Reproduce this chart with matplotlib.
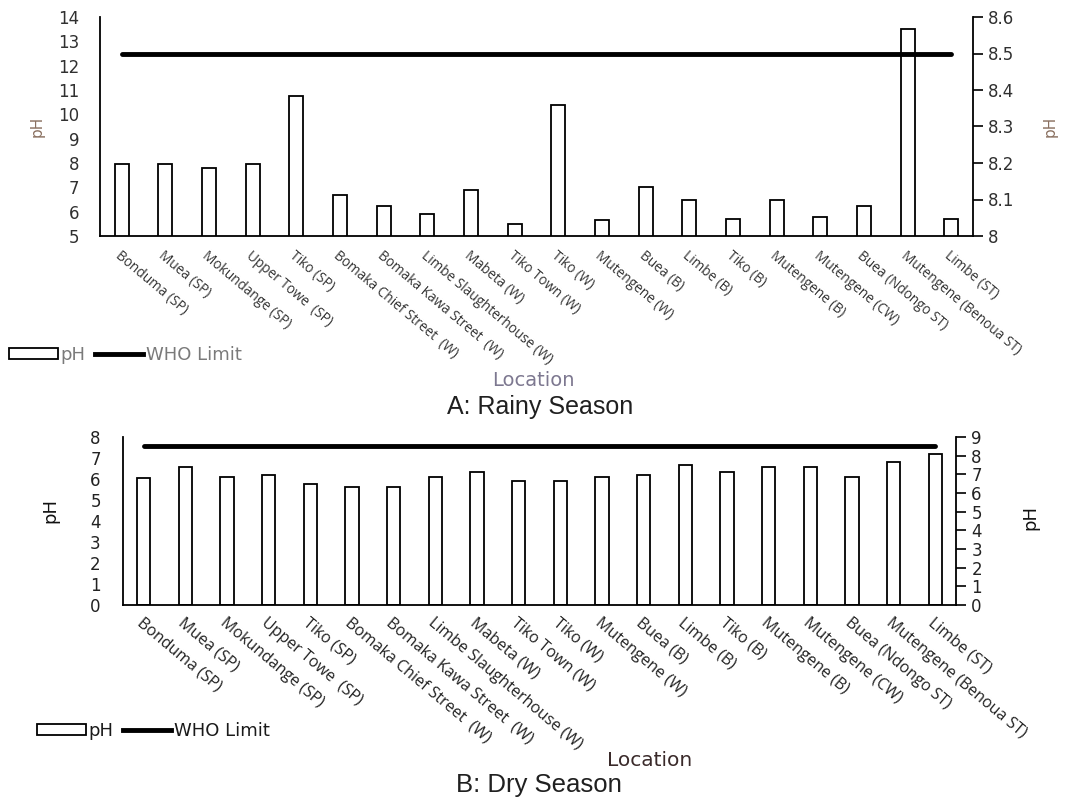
import matplotlib
matplotlib.use("Agg")
import numpy as np
import matplotlib.pyplot as plt
from matplotlib.patches import Patch
from matplotlib.lines import Line2D

# === Data ===
locations = [
    "Bonduma (SP)", "Muea (SP)", "Mokundange (SP)", "Upper Towe  (SP)", "Tiko (SP)",
    "Bomaka Chief Street  (W)", "Bomaka Kawa Street  (W)", "Limbe Slaughterhouse (W)",
    "Mabeta (W)", "Tiko Town (W)", "Tiko (W)", "Mutengene (W)", "Buea (B)", "Limbe (B)",
    "Tiko (B)", "Mutengene (B)", "Mutengene (CW)", "Buea (Ndongo ST)",
    "Mutengene (Benoua ST)", "Limbe (ST)",
]
rainy_ph = [7.95, 7.95, 7.8, 7.95, 10.75, 6.7, 6.25, 5.9, 6.9, 5.5,
            10.4, 5.65, 7.0, 6.5, 5.7, 6.5, 5.8, 6.25, 13.5, 5.7]
dry_ph = [6.05, 6.55, 6.1, 6.2, 5.75, 5.6, 5.6, 6.1, 6.35, 5.9,
          5.9, 6.1, 6.2, 6.65, 6.35, 6.55, 6.55, 6.1, 6.8, 7.2]
who_limit = 8.5

rainy_left_ticks = list(range(5, 15))
rainy_right_ticks = [8, 8.1, 8.2, 8.3, 8.4, 8.5, 8.6]
dry_left_ticks = list(range(0, 9))
dry_right_ticks = list(range(0, 10))

x = np.arange(len(locations))
who = [who_limit] * len(locations)

fig = plt.figure(figsize=(10.8, 8), dpi=100)


def draw_panel(rect, values, lticks, rticks, ylim_l, ylim_r, lab_size, tick_size,
               lab_color, tick_color, lpad, xpad):
    ax = fig.add_axes(rect)
    ax.bar(x, values, width=0.32, color="white", edgecolor="black", linewidth=1.3)
    ax.set_xlim(-0.5, len(locations) - 0.5)
    ax.set_ylim(*ylim_l)
    ax.set_yticks(lticks)
    ax.set_yticklabels([str(t) for t in lticks], fontsize=tick_size, color=tick_color)
    ax.tick_params(axis="y", length=0, pad=lpad)
    ax.set_xticks(x)
    ax.set_xticklabels(locations, rotation=-40, ha="left", va="top",
                       rotation_mode="anchor", fontsize=lab_size, color=lab_color,
                       family="Open Sans")
    ax.tick_params(axis="x", length=0, pad=xpad)
    for s in ["top", "right"]:
        ax.spines[s].set_visible(False)
    ax.spines["left"].set_linewidth(1.3)
    ax.spines["bottom"].set_linewidth(1.3)

    ax2 = ax.twinx()
    ax2.plot(x, who, color="black", linewidth=3.5, solid_capstyle="round")
    ax2.set_ylim(*ylim_r)
    ax2.set_yticks(rticks)
    ax2.set_yticklabels([str(t) for t in rticks], fontsize=tick_size, color=tick_color)
    ax2.tick_params(axis="y", length=7, width=1.2, direction="out", pad=4)
    for s in ["top", "left", "bottom"]:
        ax2.spines[s].set_visible(False)
    ax2.spines["right"].set_linewidth(1.3)
    return ax, ax2


# === A: Rainy season ===
axA, axA2 = draw_panel([100 / 1080, 1 - 236 / 800, 873 / 1080, 219 / 800], rainy_ph,
                       rainy_left_ticks, rainy_right_ticks, (5, 14), (8, 8.6),
                       9.8, 12, "#333333", "#303030", 15, 9)
axA.set_ylabel("pH", fontsize=11, color="#8a7060")
axA.yaxis.set_label_coords(-0.063, 0.5)
axA2.set_ylabel("pH", fontsize=11, color="#8a7060", rotation=90)
axA2.yaxis.set_label_coords(1.080, 0.5)

handles = [Patch(facecolor="white", edgecolor="black", linewidth=1.3),
           Line2D([0], [0], color="black", linewidth=3.5)]
fig.legend(handles, ["pH", "WHO Limit"], loc="center left",
           bbox_to_anchor=(0 / 1080, 1 - 355 / 800), ncol=2, frameon=False,
           fontsize=13, handlelength=2.7, handleheight=0.6, handletextpad=0.15,
           columnspacing=0.5, borderpad=0, labelcolor="#7a7a7a")
fig.text(533 / 1080, 1 - 380 / 800, "Location", ha="center", va="center",
         fontsize=14, color="#7d7890")
fig.text(540 / 1080, 1 - 407 / 800, "A: Rainy Season", ha="center", va="center",
         fontsize=18, color="#202020", family="Liberation Sans")

# === B: Dry season ===
axB, axB2 = draw_panel([123 / 1080, 1 - 605 / 800, 833 / 1080, 168 / 800], dry_ph,
                       dry_left_ticks, dry_right_ticks, (0, 8), (0, 9),
                       11.5, 12, "#222222", "#222222", 16, 7)
axB.set_ylabel("pH", fontsize=13, color="#111111")
axB.yaxis.set_label_coords(-0.076, 0.56)
axB2.set_ylabel("pH", fontsize=13, color="#111111", rotation=90)
axB2.yaxis.set_label_coords(1.078, 0.52)

fig.legend(handles, ["pH", "WHO Limit"], loc="center left",
           bbox_to_anchor=(28 / 1080, 1 - 731 / 800), ncol=2, frameon=False,
           fontsize=13, handlelength=2.7, handleheight=0.6, handletextpad=0.15,
           columnspacing=0.5, borderpad=0, labelcolor="#1a1a1a")
fig.text(650 / 1080, 1 - 760 / 800, "Location", ha="center", va="center",
         fontsize=14.5, color="#3a2a2a")
fig.text(539 / 1080, 1 - 785 / 800, "B: Dry Season", ha="center", va="center",
         fontsize=18.5, color="#202020", family="Liberation Sans")

fig.savefig("out.png", dpi=100)
